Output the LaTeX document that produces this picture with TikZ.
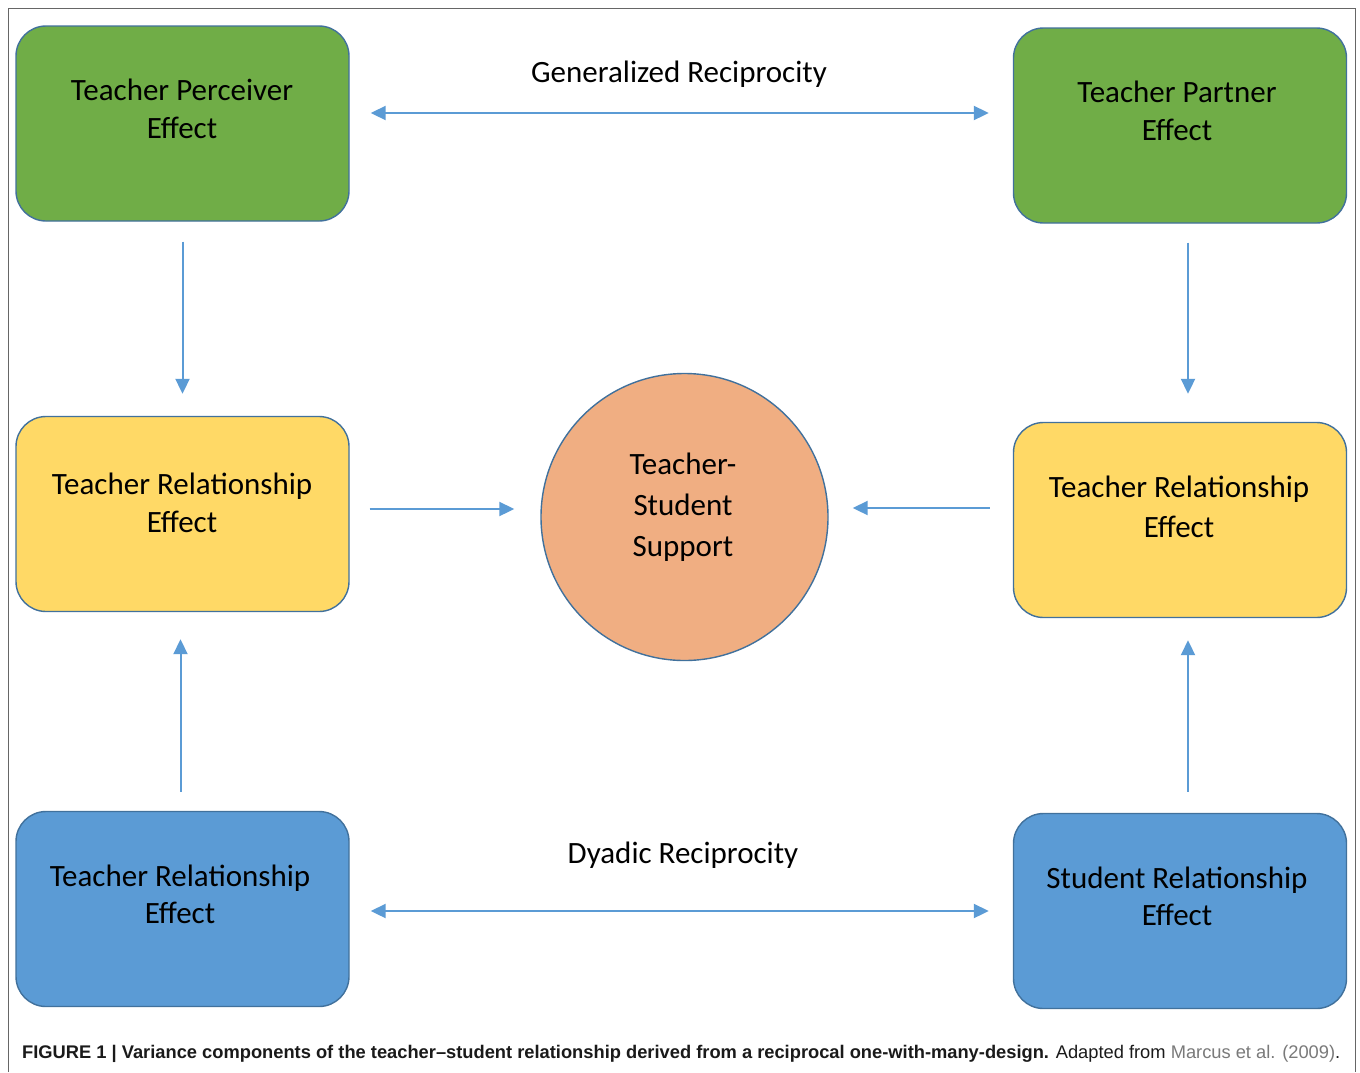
\documentclass[tikz,border=0pt]{standalone}
\usepackage{fontspec}
\setmainfont{Carlito}
\newfontfamily\capfont{Liberation Sans}
\usetikzlibrary{arrows.meta}
\definecolor{gfill}{HTML}{70AD47}
\definecolor{yfill}{HTML}{FFD966}
\definecolor{bfill}{HTML}{5B9BD5}
\definecolor{ofill}{HTML}{F0AE82}
\definecolor{edgec}{HTML}{41719C}
\definecolor{arrc}{HTML}{5B9BD5}
\definecolor{framec}{HTML}{666666}
\definecolor{capgray}{HTML}{7A7A7A}
\definecolor{captext}{HTML}{1A1A1A}
\begin{document}
\begin{tikzpicture}[x=1pt,y=-1pt,
  box/.style={draw=edgec,line width=1.4pt,rounded corners=30pt,minimum width=333pt,minimum height=195pt,inner sep=0pt},
  txt/.style={align=center,inner sep=0pt,font=\fontsize{31}{38}\selectfont,text=black},
  conn/.style={draw=arrc,line width=2pt,-{Triangle[length=15pt,width=14pt]}},
  dconn/.style={draw=arrc,line width=2pt,{Triangle[length=15pt,width=14pt]}-{Triangle[length=15pt,width=14pt]}}
]
\useasboundingbox (0,0) rectangle (1360,1072);
\fill[white] (0,0) rectangle (1360,1072);
\draw[framec,line width=1pt] (8,1072) -- (8,8) -- (1355,8) -- (1355,1072);

% boxes
\node[box,fill=gfill] (tpe) at (182.5,123.5) {};
\node[box,fill=gfill] (tpa) at (1180,125.5) {};
\node[box,fill=yfill] (trl) at (182.5,514) {};
\node[box,fill=yfill] (trr) at (1180,520) {};
\node[box,fill=bfill] (tre) at (182.5,909) {};
\node[box,fill=bfill] (sre) at (1180,911) {};
\node[circle,draw=edgec,line width=1.4pt,fill=ofill,minimum size=287pt,inner sep=0pt] (tss) at (684.5,517) {};

% texts
\node[txt] (tpeT) at (182,108.5) {Teacher Perceiver\\Effect};
\node[txt] (tpaT) at (1177,110.5) {Teacher Partner\\Effect};
\node[txt] (trlT) at (182,502.5) {Teacher Relationship\\Effect};
\node[txt,font=\fontsize{31}{40}\selectfont] (trrT) at (1179,507) {Teacher Relationship\\Effect};
\node[txt,font=\fontsize{31}{37}\selectfont] (treT) at (180,894) {Teacher Relationship\\Effect};
\node[txt,font=\fontsize{31}{37}\selectfont] (sreT) at (1177,896) {Student Relationship\\Effect};
\node[txt,font=\fontsize{31}{41}\selectfont] (tssT) at (683,507) {Teacher-\\Student\\Support};
\node[txt] (gen) at (679,74) {Generalized Reciprocity};
\node[txt] (dya) at (683,855) {Dyadic Reciprocity};

% connectors
\draw[dconn,shorten <=21pt,shorten >=24pt] ([yshift=10.5pt]tpe.east) -- ([yshift=10.5pt]tpe.east -| tpa.west);
\draw[dconn,shorten <=21pt,shorten >=24pt] ([yshift=-2pt]tre.east) -- ([yshift=-2pt]tre.east -| sre.west);
\draw[conn,shorten <=20pt,shorten >=22pt] (tpe.south) -- (trl.north);
\draw[conn,shorten <=19pt,shorten >=28pt] ([xshift=8pt]tpa.south) -- ([xshift=8pt]trr.north);
\draw[conn,shorten <=19pt,shorten >=27pt] ([xshift=-2pt]tre.north) -- ([xshift=-2pt]trl.south);
\draw[conn,shorten <=21pt,shorten >=22pt] ([xshift=8pt]sre.north) -- ([xshift=8pt]trr.south);
\draw[conn,shorten <=20pt,shorten >=26pt] ([yshift=5pt]trl.east) -- ([yshift=5pt]trl.east -| tss.west);
\draw[conn,shorten <=23pt,shorten >=24pt] ([yshift=12pt]trr.west) -- ([yshift=12pt]trr.west -| tss.east);

% caption
\node[anchor=base west,inner sep=0pt,text=captext] (cap) at (22,1058)
  {\resizebox{1318pt}{!}{\capfont\fontsize{17}{20}\selectfont\textbf{FIGURE 1 | Variance components of the teacher–student relationship derived from a reciprocal one-with-many-design.} Adapted from \textcolor{capgray}{Marcus et al. (2009)}.}};
\end{tikzpicture}
\end{document}
